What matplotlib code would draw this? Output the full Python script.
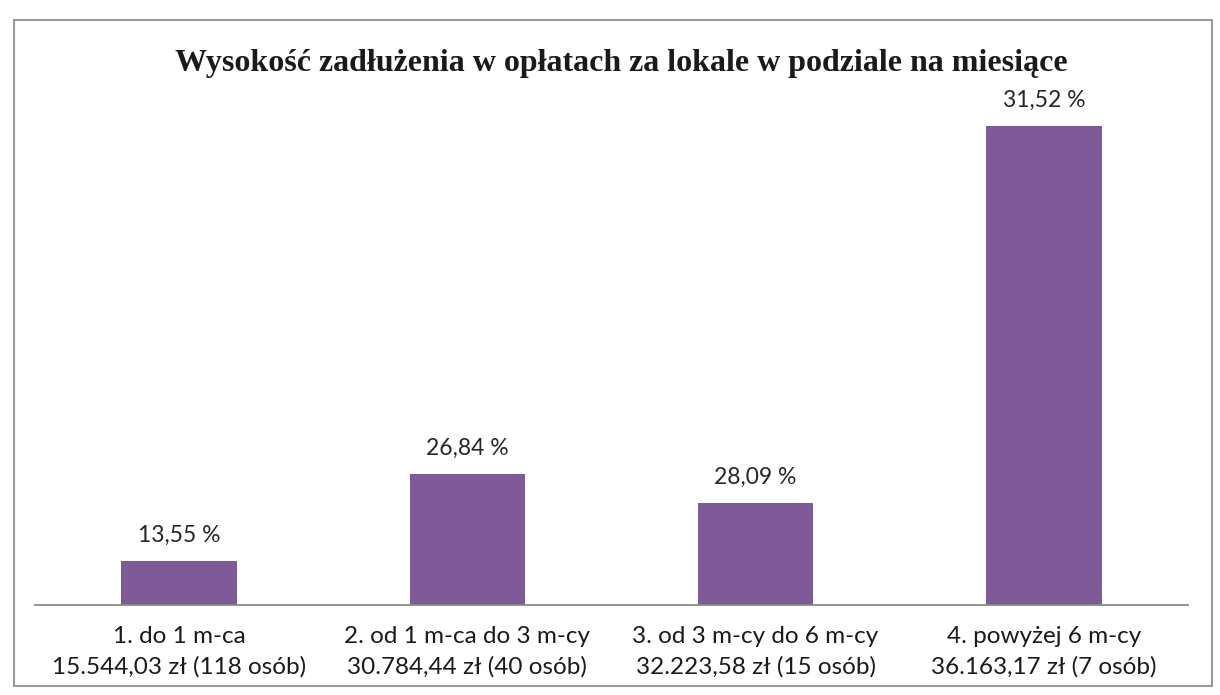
import matplotlib.pyplot as plt
from matplotlib.patches import Rectangle

# dane
categories = ['1. do 1 m-ca', '2. od 1 m-ca do 3 m-cy',
              '3. od 3 m-cy do 6 m-cy', '4. powyżej 6 m-cy']
amounts = ['15.544,03 zł (118 osób)', '30.784,44 zł (40 osób)',
           '32.223,58 zł (15 osób)', '36.163,17 zł (7 osób)']
percent_labels = ['13,55 %', '26,84 %', '28,09 %', '31,52 %']
# wysokości słupków (jednostki względne)
bar_heights = [44, 131, 102, 479]

title = 'Wysokość zadłużenia w opłatach za lokale w podziale na miesiące'

fig = plt.figure(figsize=(12.2, 6.95), dpi=100)
W, H = 1220, 695

# ramka wykresu
fig.patches.append(Rectangle((14 / W, 1 - 686 / H), (1212 - 14) / W, (686 - 20) / H,
                             transform=fig.transFigure, fill=False,
                             edgecolor='#9a9a9a', linewidth=1.5))

ax = fig.add_axes([35 / W, 1 - 605 / H, (1188 - 35) / W, (605 - 100) / H])
x = range(len(categories))
bars = ax.bar(x, bar_heights, width=0.4, color='#7e5b98')
ax.set_xlim(-0.5, 3.5)
ax.set_ylim(0, 505)

for b, lab in zip(bars, percent_labels):
    ax.annotate(lab, (b.get_x() + b.get_width() / 2, b.get_height()),
                xytext=(0, 11), textcoords='offset points',
                ha='center', va='bottom', fontsize=16.5, family='Lato', color='#262626')

ax.set_xticks(list(x))
ax.set_xticklabels([c + '\n' + a for c, a in zip(categories, amounts)],
                   fontsize=17.5, family='Lato', color='#1a1a1a', linespacing=1.55)
ax.tick_params(axis='x', length=0, pad=15)
ax.set_yticks([])
for s in ['top', 'right', 'left']:
    ax.spines[s].set_visible(False)
ax.spines['bottom'].set_color('#8a8a80')
ax.spines['bottom'].set_linewidth(1.3)

fig.text(621 / W, 1 - 63 / H, title, ha='center', va='center',
         fontsize=23, fontweight='bold', family='Liberation Serif', color='#1a1a1a')

fig.savefig('out.png', dpi=100)
